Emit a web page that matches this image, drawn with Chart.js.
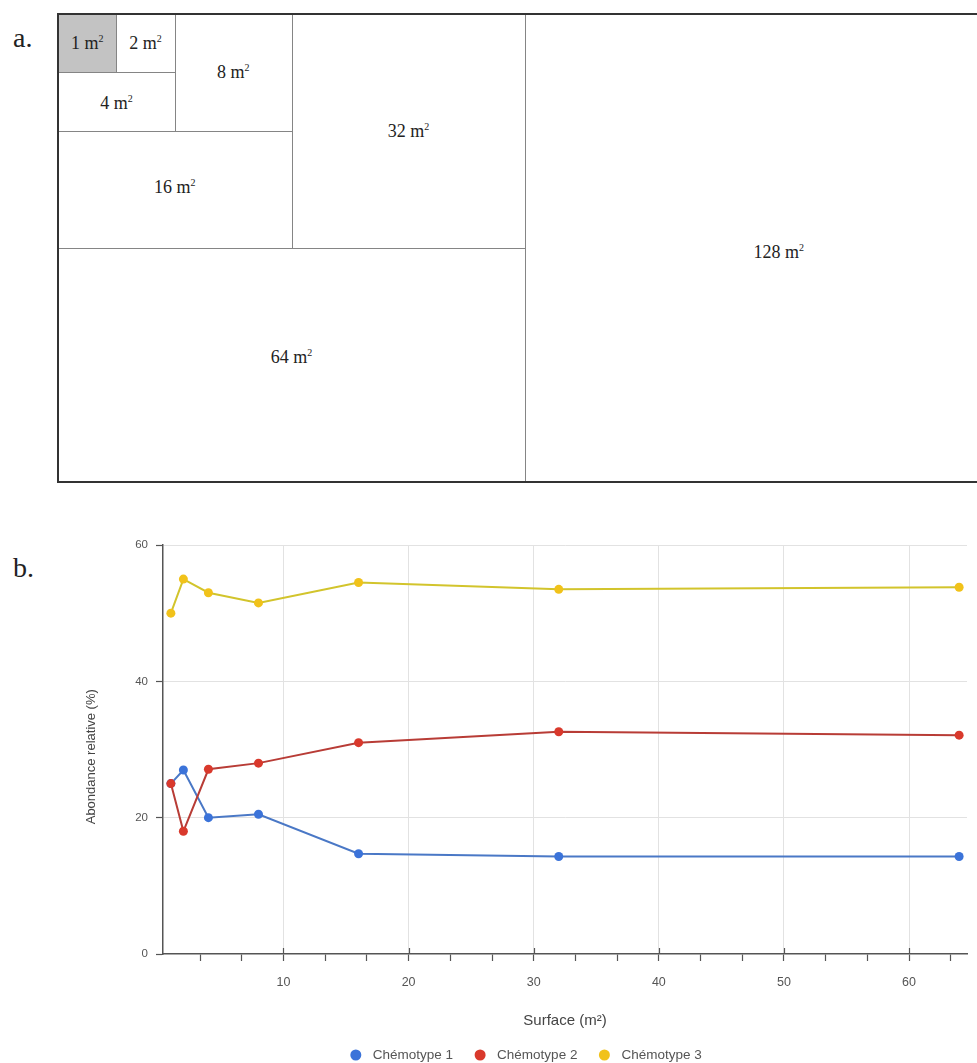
<!DOCTYPE html>
<html><head><meta charset="utf-8">
<script src="https://cdn.jsdelivr.net/npm/chart.js@4.4.0/dist/chart.umd.min.js"></script>
<style>
html,body{margin:0;padding:0;background:#fff;overflow:hidden;width:977px;height:1063px;}
#wrap{position:relative;width:977px;height:1063px;overflow:hidden;}
.cell{position:absolute;box-sizing:border-box;border:1.5px solid #858585;}
.lab{position:absolute;transform:translate(-50%,-50%);white-space:nowrap;font-family:"Liberation Serif","Times New Roman",serif;font-size:18px;color:#222;}
.lab sup{font-size:10px;vertical-align:7px;line-height:0;}
.outer{position:absolute;box-sizing:border-box;border:2px solid #333;}
.tag{position:absolute;font-family:"Liberation Serif","Times New Roman",serif;font-size:28px;color:#222;}
#c{position:absolute;left:83px;top:520px;}
</style></head>
<body><div id="wrap">
<div class="tag" style="left:13px;top:22px;">a.</div>
<div class="tag" style="left:13px;top:552px;">b.</div>
<div id="diagram"></div>
<canvas id="c" width="894" height="543"></canvas>
</div>
<script>
// ---- Part a : nested plots (sizes in m²) ----
const plotSizes = [1, 2, 4, 8, 16, 32, 64, 128];
// ---- Part b : data ----
const surfaces = [1, 2, 4, 8, 16, 32, 64];
const chemotype1 = [25, 27, 20, 20.5, 14.7, 14.3, 14.3];
const chemotype2 = [25, 18, 27.1, 28, 31, 32.6, 32.1];
const chemotype3 = [50, 55, 53, 51.5, 54.5, 53.5, 53.8];
const seriesNames = ['Chémotype 1', 'Chémotype 2', 'Chémotype 3'];
const yTicks = [0, 20, 40, 60];
const xMajorTicks = [10, 20, 30, 40, 50, 60];

// diagram layout (units of the 1 m² side)
(function(){
  const U = 58.4, X0 = 58, Y0 = 14;
  const cells = [
    [0,0,1,1, 0,0],[1,0,1,1, 0,0],[0,1,2,1, 0,1],[2,0,2,2, 0,0],
    [0,2,4,2, 0,-2],[4,0,4,4, 0,0],[0,4,8,4, 0,-7],[8,0,8,8, 20,4]
  ];
  const d = document.getElementById('diagram');
  let html = '';
  cells.forEach((c,i)=>{
    const x = X0 + c[0]*U, y = Y0 + c[1]*U, w = c[2]*U, h = c[3]*U;
    html += `<div class="cell" style="left:${x}px;top:${y}px;width:${w+1}px;height:${h+1}px;${i===0?'background:#c3c3c3;':''}"></div>`;
    html += `<div class="lab" style="left:${x+w/2+c[4]}px;top:${y+h/2+c[5]}px;">${plotSizes[i]} m<sup>2</sup></div>`;
  });
  html += `<div class="outer" style="left:${X0-1}px;top:${Y0-1}px;width:${16*U+3}px;height:${8*U+3}px;"></div>`;
  d.innerHTML = html;
})();

const colorsPoint = ['#3b73d9', '#d9392c', '#f1c21a'];
const colorsLine = ['#4a78c6', '#b83c36', '#d2c42c'];
const seriesVals = [chemotype1, chemotype2, chemotype3];

const datasets = seriesVals.map((vals, i) => ({
  label: seriesNames[i],
  data: surfaces.map((s, k) => ({x: s, y: vals[k]})),
  borderColor: colorsLine[i],
  backgroundColor: colorsPoint[i],
  pointBackgroundColor: colorsPoint[i],
  pointBorderColor: colorsPoint[i],
  pointRadius: 4.5,
  pointBorderWidth: 0,
  borderWidth: 2,
  tension: 0,
  order: i === 1 ? 0 : (i === 0 ? 1 : 2)
}));

const FONT = '"Liberation Sans", Arial, sans-serif';

const legendPlugin = {
  id: 'customLegend',
  afterDraw(chart) {
    const ctx = chart.ctx;
    ctx.save();
    ctx.font = '13.5px ' + FONT;
    ctx.textBaseline = 'middle';
    const y = 535, r = 5.5, gap = 17, spacing = 27, center = 443;
    const ds = chart.data.datasets;
    const widths = ds.map(d => ctx.measureText(d.label).width);
    let total = r;
    widths.forEach((w, i) => { total += gap + w + (i < ds.length - 1 ? spacing : 0); });
    let x = center - total / 2 + r;
    ds.forEach((d, i) => {
      ctx.fillStyle = d.pointBackgroundColor;
      ctx.beginPath(); ctx.arc(x, y, r, 0, Math.PI * 2); ctx.fill();
      ctx.fillStyle = '#555';
      ctx.fillText(d.label, x + gap, y);
      x += gap + widths[i] + spacing;
    });
    ctx.restore();
  }
};

const majorTickPlugin = {
  id: 'majorTicks',
  afterDraw(chart) {
    const xs = chart.scales.x, ctx = chart.ctx;
    const yb = chart.chartArea.bottom;
    ctx.save();
    ctx.strokeStyle = '#555'; ctx.lineWidth = 1.2;
    xMajorTicks.forEach(v => {
      const px = Math.round(xs.getPixelForValue(v)) + 0.5;
      ctx.beginPath(); ctx.moveTo(px, yb - 6); ctx.lineTo(px, yb); ctx.stroke();
    });
    ctx.restore();
  }
};

new Chart(document.getElementById('c'), {
  type: 'line',
  data: { datasets },
  plugins: [legendPlugin, majorTickPlugin],
  options: {
    responsive: false,
    devicePixelRatio: 1,
    animation: false,
    layout: { padding: { top: 25, right: 10, left: 0, bottom: 29 } },
    plugins: { legend: { display: false }, tooltip: { enabled: false } },
    scales: {
      x: {
        type: 'linear',
        min: 0.37, max: 64.63,
        afterFit(s) { s.height = 80; },
        afterBuildTicks(s) {
          const t = [];
          for (let k = 1; k <= 19; k++) t.push({ value: k * 10 / 3 });
          s.ticks = t;
        },
        ticks: {
          autoSkip: false, maxRotation: 0, padding: 14,
          color: '#555', font: { family: FONT, size: 12.5 },
          callback: (v) => { const m = Math.round(v); return (Math.abs(v - m) < 0.01 && m % 10 === 0) ? String(m) : ''; }
        },
        grid: {
          color: (c) => { const v = c.tick ? c.tick.value : 0; const m = Math.round(v); return (Math.abs(v - m) < 0.01 && m % 10 === 0) ? '#e2e2e2' : 'rgba(0,0,0,0)'; },
          tickColor: '#555', tickLength: 7, lineWidth: 1, tickWidth: 1.2
        },
        border: { color: '#555', width: 1.5 },
        title: { display: true, text: 'Surface (m²)', color: '#444', font: { family: FONT, size: 15 }, padding: { top: 0, bottom: 4 } }
      },
      y: {
        min: 0, max: 60,
        afterFit(s) { s.width = 80; },
        afterBuildTicks(s) { s.ticks = yTicks.map(v => ({ value: v })); },
        ticks: { color: '#555', font: { family: FONT, size: 11.5 }, padding: 8 },
        grid: { color: (c) => (c.tick && c.tick.value === 0) ? 'rgba(0,0,0,0)' : '#e2e2e2', tickColor: '#555', tickLength: 7, tickWidth: 1.2 },
        border: { color: '#555', width: 1.5 },
        title: { display: true, text: 'Abondance relative (%)\u00a0\u00a0\u00a0\u00a0', color: '#444', font: { family: FONT, size: 13 }, padding: { top: 1, bottom: 0 } }
      }
    }
  }
});
</script>
</body></html>
